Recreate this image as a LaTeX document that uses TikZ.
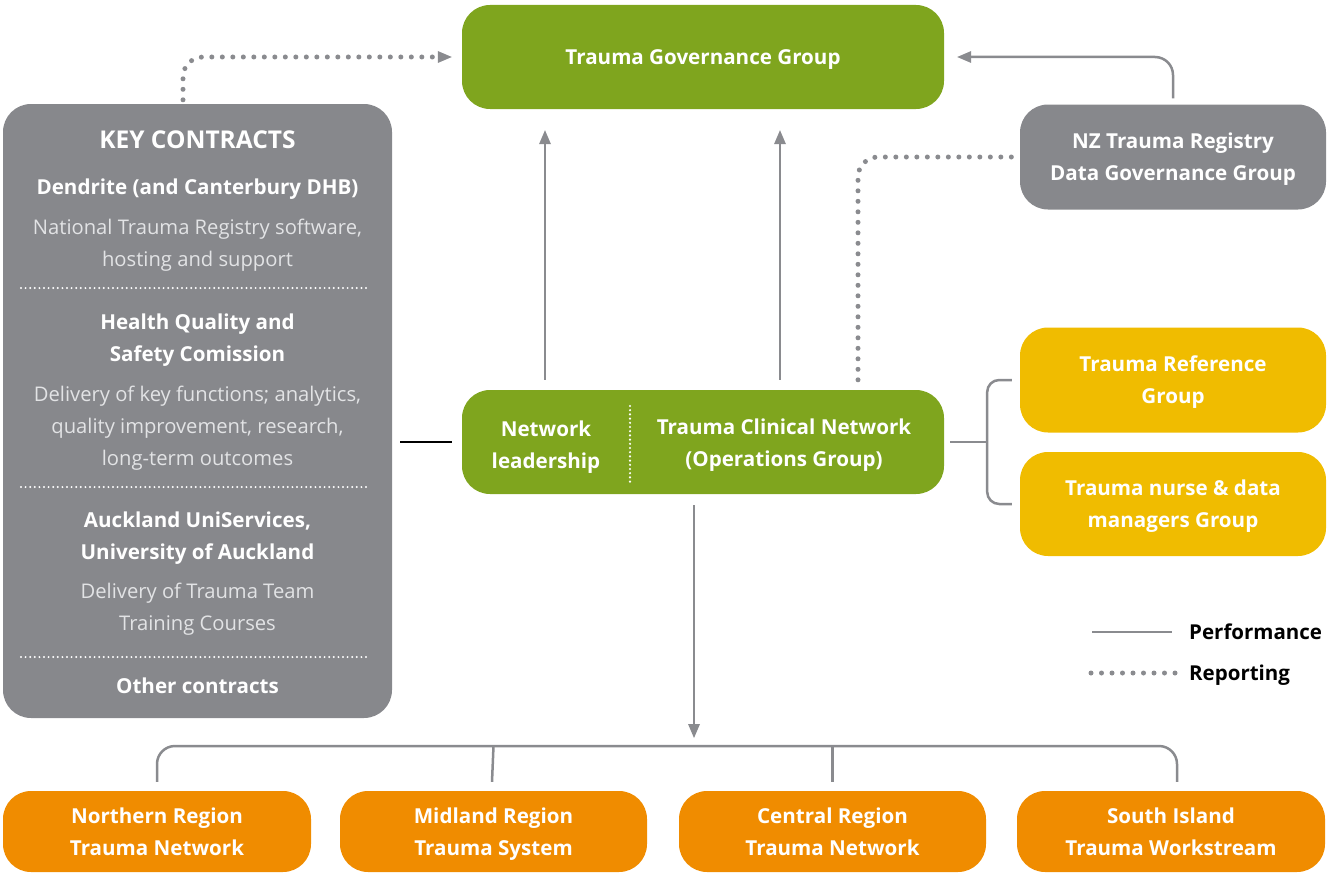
\documentclass[tikz,border=0pt]{standalone}
\usepackage{fontspec}
\setmainfont{Open Sans}
\usetikzlibrary{arrows.meta,positioning,calc}
\definecolor{netgreen}{RGB}{127,165,30}
\definecolor{kcgray}{RGB}{135,136,140}
\definecolor{refyellow}{RGB}{240,188,0}
\definecolor{regorange}{RGB}{240,140,0}
\definecolor{linegray}{RGB}{138,139,143}
\definecolor{softwhite}{RGB}{226,227,229}

\begin{document}
\begin{tikzpicture}[x=1pt, y=-1pt,
    box/.style={rectangle, rounded corners=28pt, inner sep=0pt, align=center, text=white, text depth=0pt,
        font=\fontsize{20.6}{32}\selectfont\bfseries},
    region/.style={box, fill=regorange, minimum height=81pt},
    hd/.style={text=white, align=center, inner sep=0pt, text depth=0pt, font=\fontsize{20.6}{32}\selectfont\bfseries},
    ds/.style={text=softwhite, align=center, inner sep=0pt, text depth=0pt, font=\fontsize{20.2}{32}\selectfont},
    perf/.style={draw=linegray, line width=2.5pt, rounded corners=18pt},
    rep/.style={draw=linegray, line width=5pt, line cap=round, dash pattern=on 0pt off 10.5pt, rounded corners=20pt},
    sep/.style={draw=white, line width=2.2pt, line cap=round, dash pattern=on 0pt off 4.6pt},
    tip/.style={-{Triangle[length=14pt,width=12pt,line width=0pt]}},
]
    \useasboundingbox (0,0) rectangle (1328,875);

    % top level
    \node[box, fill=netgreen, minimum width=482pt, minimum height=104pt] (gov) at (703,57) {Trauma Governance Group};
    \node[box, fill=kcgray, minimum width=306pt, minimum height=105pt] (nztr) at (1173,157) {NZ Trauma Registry\\Data Governance Group};

    % key contracts panel
    \node[box, fill=kcgray, minimum width=389pt, minimum height=614pt] (kc) at (197.5,411) {};
    \node[hd, font=\fontsize{24.5}{32}\selectfont\bfseries] (kchead) at (197.5,140) {KEY CONTRACTS};
    \node[hd] (kc1) at (197.5,187) {Dendrite (and Canterbury DHB)};
    \node[ds] (kc1d) at (197.5,243) {National Trauma Registry software,\\hosting and support};
    \node[hd] (kc2) at (197.5,338) {Health Quality and\\Safety Comission};
    \node[ds] (kc2d) at (197.5,426) {Delivery of key functions; analytics,\\quality improvement, research,\\long-term outcomes};
    \node[hd] (kc3) at (197.5,536) {Auckland UniServices,\\University of Auckland};
    \node[ds] (kc3d) at (197.5,607) {Delivery of Trauma Team\\Training Courses};
    \node[hd] (kc4) at (197.5,686) {Other contracts};
    \foreach \y in {288,487,657}
        \draw[sep] (21,\y) -- (369,\y);

    % clinical network
    \node[box, fill=netgreen, minimum width=482pt, minimum height=104pt] (tcn) at (703,442) {};
    \node[hd] (lead) at (546,445) {Network\\leadership};
    \node[hd] (ops) at (784,443) {Trauma Clinical Network\\(Operations Group)};
    \draw[sep, line width=2.4pt, dash pattern=on 0pt off 4.2pt] (630,406) -- (630,482);

    \node[box, fill=refyellow, minimum width=306pt, minimum height=105pt] (trg) at (1173,380) {Trauma Reference\\Group};
    \node[box, fill=refyellow, minimum width=306pt, minimum height=104pt] (tndm) at (1173,504) {Trauma nurse \& data\\managers Group};

    % regions
    \node[region, minimum width=308pt] (north) at (157,831.5) {Northern Region\\Trauma Network};
    \node[region, minimum width=307pt] (mid) at (493.5,831.5) {Midland Region\\Trauma System};
    \node[region, minimum width=307pt] (central) at (832.5,831.5) {Central Region\\Trauma Network};
    \node[region, minimum width=308pt] (south) at (1171,831.5) {South Island\\Trauma Workstream};

    % performance lines
    \draw[perf, tip] ([xshift=-158pt,yshift=10pt]tcn.north) -- ([xshift=-158pt,yshift=-21pt]gov.south);
    \draw[perf, tip] ([xshift=77pt,yshift=10pt]tcn.north) -- ([xshift=77pt,yshift=-21pt]gov.south);
    \draw[perf, tip] ([yshift=6pt]nztr.north) |- ([xshift=13pt]gov.east);
    \draw[black, line width=2.5pt] ($(tcn.west -| kc.east)+(8,0)$) -- ([xshift=-10pt]tcn.west);

    \coordinate (brk) at ($(tcn.east)+(43,0)$);
    \draw[perf] ([xshift=6pt]tcn.east) -- (brk);
    \draw[perf, rounded corners=12pt] ([xshift=-8pt]trg.west) -| (brk) |- ([xshift=-8pt]tndm.west);

    \coordinate (bus) at (694,746);
    \draw[perf, tip] ([xshift=-9pt,yshift=-11pt]tcn.south) -- ([yshift=8pt]bus);
    \draw[perf] ([yshift=9pt]north.north) |- (bus) -| ([xshift=6pt,yshift=9pt]south.north);
    \draw[perf] ([xshift=-1.5pt,yshift=9pt]mid.north) -- (mid.north |- bus);
    \draw[perf] ([yshift=9pt]central.north) -- (central.north |- bus);

    % reporting lines
    \draw[rep, tip] ([xshift=-14.5pt,yshift=4pt]kc.north) |- ([xshift=-10pt]gov.west);
    \draw[rep] ([xshift=155pt,yshift=10pt]tcn.north) |- ([xshift=-7pt]nztr.west);

    % legend
    \coordinate (lp1) at (1092,632);
    \coordinate (lp2) at (1172,632);
    \coordinate (lr1) at (1091,673);
    \coordinate (lr2) at (1176,673);
    \draw[perf] (lp1) -- (lp2);
    \draw[rep] (lr1) -- (lr2);
    \node[anchor=west, inner sep=0pt, text depth=0pt, font=\fontsize{20.5}{24}\selectfont\bfseries] (lperf) at (1189,632) {Performance};
    \node[anchor=west, inner sep=0pt, text depth=0pt, font=\fontsize{20.5}{24}\selectfont\bfseries] (lrep) at (1189,673) {Reporting};
\end{tikzpicture}
\end{document}
